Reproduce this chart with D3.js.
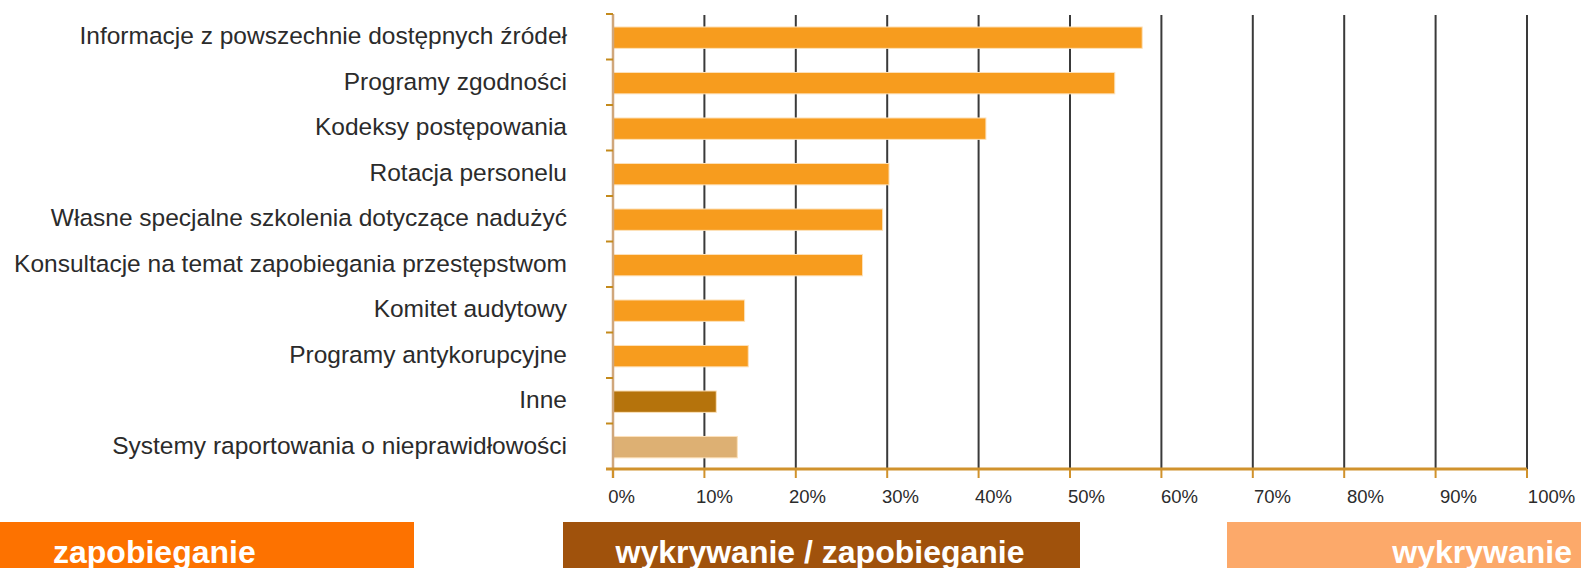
<!DOCTYPE html>
<html lang="pl">
<head>
  <meta charset="utf-8" />
  <title>Zapobieganie i wykrywanie</title>
  <script src="https://cdnjs.cloudflare.com/ajax/libs/d3/7.8.5/d3.min.js"></script>
  <style>
    body { margin: 0; background: #fff; }
    svg { display: block; font-family: 'Liberation Sans', Arial, sans-serif; }
  </style>
</head>
<body>
<svg id="chart" width="1581" height="568"></svg>
<script>
// ---- data ----
const categories = [
  "Informacje z powszechnie dostępnych źródeł",
  "Programy zgodności",
  "Kodeksy postępowania",
  "Rotacja personelu",
  "Własne specjalne szkolenia dotyczące nadużyć",
  "Konsultacje na temat zapobiegania przestępstwom",
  "Komitet audytowy",
  "Programy antykorupcyjne",
  "Inne",
  "Systemy raportowania o nieprawidłowości"
];
const values = [57.9, 54.9, 40.8, 30.2, 29.5, 27.3, 14.4, 14.8, 11.3, 13.6];
const barGroups = ["z", "z", "z", "z", "z", "z", "z", "z", "wz", "w"];
const xTicks = [0, 10, 20, 30, 40, 50, 60, 70, 80, 90, 100];
const legendLabels = ["zapobieganie", "wykrywanie / zapobieganie", "wykrywanie"];

const svg = d3.select("#chart");
const margin = {top: 14, left: 613, right: 54, bottom: 99};
const W = +svg.attr("width"), H = +svg.attr("height");

const x = d3.scaleLinear().domain([0, 100]).range([margin.left, W - margin.right]);
// tick labels sit on a slightly wider spacing than the ticks themselves
const xLabel = d3.scaleLinear().domain([0, 100]).range([621, 1551]);
const y = d3.scaleBand().domain(categories).range([margin.top, H - margin.bottom]);
const barColor = d3.scaleOrdinal().domain(["z", "wz", "w"]).range(["#f79c1e", "#b5730c", "#ddb073"]);
const yBottom = H - margin.bottom;

// gridlines
svg.append("g")
  .selectAll("line")
  .data(xTicks.filter(d => d > 0))
  .join("line")
  .attr("x1", d => x(d)).attr("x2", d => x(d))
  .attr("y1", margin.top + 1).attr("y2", yBottom)
  .attr("stroke", "#3a3a3a")
  .attr("stroke-width", 2);

// bars
svg.append("g")
  .selectAll("rect")
  .data(categories)
  .join("rect")
  .attr("x", x(0))
  .attr("y", (d, i) => y(d) + y.step() * 0.285)
  .attr("width", (d, i) => x(values[i]) - x(0))
  .attr("height", y.step() * 0.47)
  .attr("fill", (d, i) => barColor(barGroups[i]))
  .attr("stroke", "#fde2bb")
  .attr("stroke-width", 1);

// left axis
svg.append("line")
  .attr("x1", x(0)).attr("x2", x(0))
  .attr("y1", margin.top).attr("y2", yBottom + 9)
  .attr("stroke", "#d0a77c").attr("stroke-width", 2.5);
svg.append("g")
  .selectAll("line")
  .data(categories)
  .join("line")
  .attr("x1", x(0) - 7).attr("x2", x(0))
  .attr("y1", d => y(d)).attr("y2", d => y(d))
  .attr("stroke", "#c48a1c").attr("stroke-width", 2);

// category labels
svg.append("g")
  .selectAll("text")
  .data(categories)
  .join("text")
  .attr("x", 567)
  .attr("y", d => y(d) + y.bandwidth() / 2 - 1)
  .attr("dy", "0.35em")
  .attr("text-anchor", "end")
  .attr("fill", "#2b2b2b")
  .style("font-size", "24.5px")
  .text(d => d);

// bottom axis
svg.append("line")
  .attr("x1", x(0) - 7).attr("x2", x(100))
  .attr("y1", yBottom).attr("y2", yBottom)
  .attr("stroke", "#d0922c").attr("stroke-width", 3);
svg.append("g")
  .selectAll("line")
  .data(xTicks)
  .join("line")
  .attr("x1", d => x(d)).attr("x2", d => x(d))
  .attr("y1", yBottom).attr("y2", yBottom + 9)
  .attr("stroke", "#d0922c").attr("stroke-width", 2);

svg.append("g")
  .attr("transform", `translate(0,${yBottom + 34})`)
  .call(d3.axisBottom(xLabel).tickValues(xTicks).tickSize(0).tickFormat(d => d + "%"))
  .call(g => g.select(".domain").remove())
  .call(g => g.selectAll("text")
    .attr("y", 0).attr("dy", 0)
    .attr("fill", "#2b2b2b")
    .style("font-size", "18.5px")
    .style("font-family", "'Liberation Sans', Arial, sans-serif"));

// legend boxes along the bottom
const legendBoxes = [
  {x0: 0, x1: 414, color: "#fd7200", anchor: "start", tx: 53},
  {x0: 563, x1: 1080, color: "#a0520c", anchor: "middle", tx: 820},
  {x0: 1227, x1: W, color: "#fca96a", anchor: "end", tx: 1572}
];
const legend = svg.append("g");
legend.selectAll("rect")
  .data(legendBoxes)
  .join("rect")
  .attr("x", d => d.x0)
  .attr("y", 522)
  .attr("width", d => d.x1 - d.x0)
  .attr("height", H - 522)
  .attr("fill", d => d.color);
legend.selectAll("text")
  .data(legendBoxes)
  .join("text")
  .attr("x", d => d.tx)
  .attr("y", 563)
  .attr("text-anchor", d => d.anchor)
  .attr("fill", "#fff")
  .style("font-size", "32px")
  .style("font-weight", "bold")
  .text((d, i) => legendLabels[i]);
</script>
</body>
</html>
